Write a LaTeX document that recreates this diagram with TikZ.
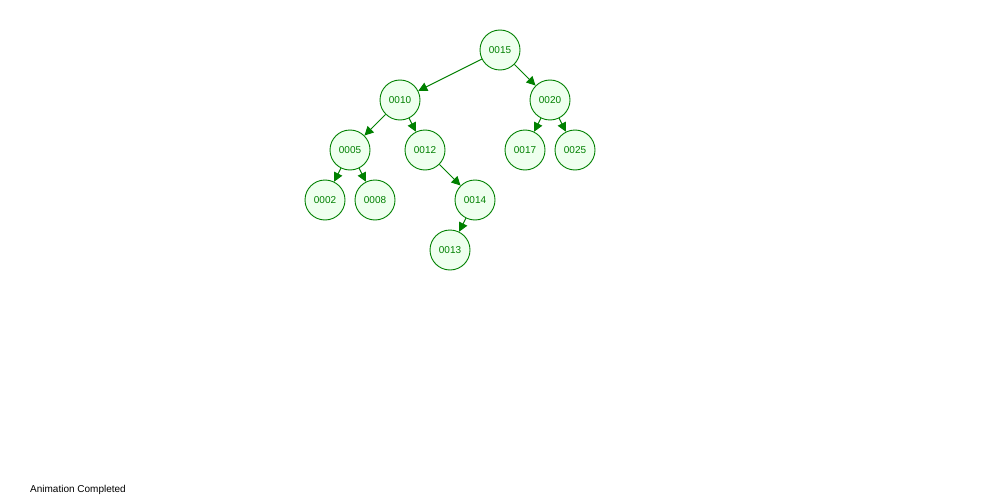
\documentclass[tikz,border=0pt]{standalone}
\usepackage{fontspec}
\setmainfont{Liberation Sans}
\usetikzlibrary{arrows.meta}
\definecolor{tgreen}{RGB}{0,128,0}
\definecolor{tfill}{RGB}{238,255,238}
\begin{document}
\begin{tikzpicture}[x=1pt,y=-1pt,
  tnode/.style={circle,draw=tgreen,fill=tfill,line width=0.9pt,minimum size=40pt,inner sep=0pt,text=tgreen,font=\fontsize{10}{12}\selectfont},
  tedge/.style={draw=tgreen,line width=1pt,-{Triangle[length=9pt,width=9pt]}}]
\useasboundingbox (0,0) rectangle (1000,500);
\fill[white] (0,0) rectangle (1000,500);
\node[tnode] (n15) at (500,50) {0015};
\node[tnode] (n10) at (400,100) {0010};
\node[tnode] (n20) at (550,100) {0020};
\node[tnode] (n05) at (350,150) {0005};
\node[tnode] (n12) at (425,150) {0012};
\node[tnode] (n17) at (525,150) {0017};
\node[tnode] (n25) at (575,150) {0025};
\node[tnode] (n02) at (325,200) {0002};
\node[tnode] (n08) at (375,200) {0008};
\node[tnode] (n14) at (475,200) {0014};
\node[tnode] (n13) at (450,250) {0013};
\draw[tedge] (n15) -- (n10);
\draw[tedge] (n15) -- (n20);
\draw[tedge] (n10) -- (n05);
\draw[tedge] (n10) -- (n12);
\draw[tedge] (n20) -- (n17);
\draw[tedge] (n20) -- (n25);
\draw[tedge] (n05) -- (n02);
\draw[tedge] (n05) -- (n08);
\draw[tedge] (n12) -- (n14);
\draw[tedge] (n14) -- (n13);
\node[anchor=west,inner sep=0pt,font=\fontsize{10}{12}\selectfont] (status) at (30,490) {Animation Completed};
\end{tikzpicture}
\end{document}
